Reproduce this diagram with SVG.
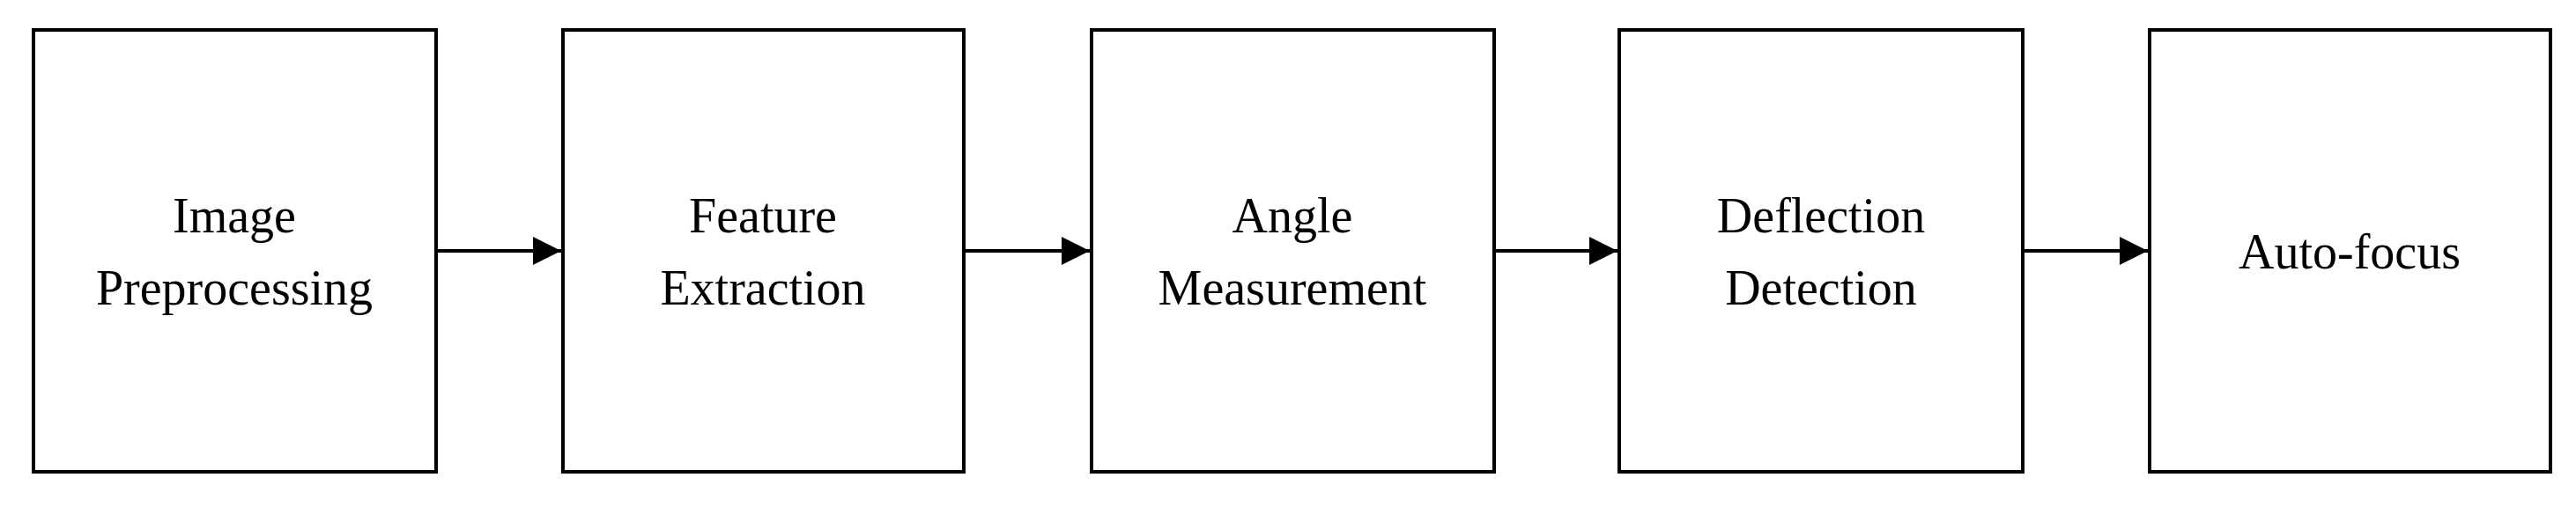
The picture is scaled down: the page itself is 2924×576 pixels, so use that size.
<svg xmlns="http://www.w3.org/2000/svg" width="2924" height="576" viewBox="0 0 2924 576">
<style>
.box{fill:#fff;stroke:#000;stroke-width:4}
.t{font-family:"Liberation Serif","DejaVu Serif",serif;font-size:56px;text-anchor:middle;fill:#000}
.c{stroke:#000;stroke-width:4;fill:none}
</style>
<defs><marker id="a" markerWidth="8" markerHeight="8" refX="8" refY="4" orient="auto" markerUnits="strokeWidth"><path d="M0,0 L8,4 L0,8 Z" fill="#000"/></marker></defs>
<rect width="2924" height="576" fill="#fff"/>
<g id="n1"><rect class="box" x="38" y="34" width="457" height="502"/><text class="t" x="266" y="264">Image</text><text class="t" x="266" y="346">Preprocessing</text></g>
<g id="n2"><rect class="box" x="639" y="34" width="455" height="502"/><text class="t" x="866" y="264">Feature</text><text class="t" x="866" y="346">Extraction</text></g>
<g id="n3"><rect class="box" x="1239" y="34" width="457" height="502"/><text class="t" x="1467" y="264">Angle</text><text class="t" x="1467" y="346">Measurement</text></g>
<g id="n4"><rect class="box" x="1838" y="34" width="458" height="502"/><text class="t" x="2067" y="264">Deflection</text><text class="t" x="2067" y="346">Detection</text></g>
<g id="n5"><rect class="box" x="2440" y="34" width="455" height="502"/><text class="t" x="2667" y="305">Auto-focus</text></g>
<g id="connectors">
<line class="c" x1="495" y1="285" x2="637" y2="285" marker-end="url(#a)"/>
<line class="c" x1="1094" y1="285" x2="1237" y2="285" marker-end="url(#a)"/>
<line class="c" x1="1696" y1="285" x2="1836" y2="285" marker-end="url(#a)"/>
<line class="c" x1="2296" y1="285" x2="2438" y2="285" marker-end="url(#a)"/>
</g>
</svg>
